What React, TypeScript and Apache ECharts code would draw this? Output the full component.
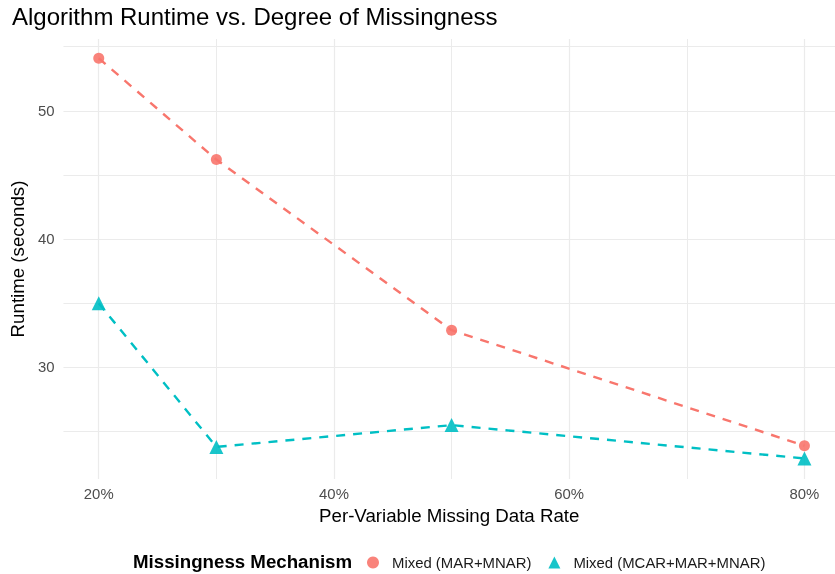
import React, { useEffect, useRef } from "react";
import * as echarts from "echarts";

const rates = [20, 30, 50, 80];
const marMnar = [54.1, 46.2, 32.9, 23.9];
const mcarMarMnar = [35.0, 23.8, 25.5, 22.9];
const seriesNames = ["Mixed (MAR+MNAR)", "Mixed (MCAR+MAR+MNAR)"];
const xMajorTicks = [20, 40, 60, 80];
const xMinorTicks = [30, 50, 70];
const yMajorTicks = [30, 40, 50];
const yMinorTicks = [25, 35, 45, 55];

const FONT = "Liberation Sans, Arial, Helvetica, sans-serif";
const GRID = "#ebebeb";

export default function App() {
  const ref = useRef<HTMLDivElement>(null);
  useEffect(() => {
    if (!ref.current) return;
    const chart = echarts.init(ref.current, null, { renderer: "svg" });
    const mk = (ys: number[]) => rates.map((r, i) => [r, ys[i]]);
    chart.setOption({
      animation: false,
      textStyle: { fontFamily: FONT },
      title: [
        {
          text: "Algorithm Runtime vs. Degree of Missingness",
          left: 12,
          top: 4,
          padding: 0,
          textStyle: { fontFamily: FONT, fontSize: 24, fontWeight: "normal", color: "#000" },
        },
        {
          text: "Missingness Mechanism",
          left: 133,
          top: 552,
          padding: 0,
          textStyle: { fontFamily: FONT, fontSize: 18.7, fontWeight: "bold", color: "#000" },
        },
      ],
      legend: {
        left: 367,
        top: 555,
        padding: 0,
        itemWidth: 12,
        itemHeight: 12,
        itemGap: 17,
        textStyle: { fontFamily: FONT, fontSize: 14.9, color: "#1a1a1a", padding: [0, 0, 0, 8] },
        data: [
          { name: seriesNames[0], icon: "circle" },
          { name: seriesNames[1], icon: "triangle" },
        ],
      },
      grid: { left: 60, right: 0, top: 39, bottom: 95, containLabel: false },
      xAxis: [
        {
          type: "value",
          min: 17,
          max: 82.6,
          axisLine: { show: false },
          axisTick: { show: false, customValues: xMajorTicks },
          axisLabel: {
            customValues: xMajorTicks,
            formatter: (v: number) => v + "%",
            color: "#4d4d4d",
            fontSize: 14.9,
            margin: 7,
            fontFamily: FONT,
          },
          splitLine: { show: true, lineStyle: { color: GRID, width: 1.2 } },
          name: "Per-Variable Missing Data Rate",
          nameLocation: "middle",
          nameGap: 26,
          nameTextStyle: { fontFamily: FONT, fontSize: 18.7, color: "#000" },
        },
        {
          type: "value",
          min: 17,
          max: 82.6,
          position: "top",
          axisLine: { show: false },
          axisTick: { show: false, customValues: xMinorTicks },
          axisLabel: { show: false, customValues: xMinorTicks },
          splitLine: { show: true, lineStyle: { color: GRID, width: 1 } },
        },
      ],
      yAxis: [
        {
          type: "value",
          min: 21.3,
          max: 55.6,
          axisLine: { show: false },
          axisTick: { show: false, customValues: yMajorTicks },
          axisLabel: {
            customValues: yMajorTicks,
            color: "#4d4d4d",
            fontSize: 14.9,
            margin: 9,
            fontFamily: FONT,
          },
          splitLine: { show: true, lineStyle: { color: GRID, width: 1.2 } },
          name: "Runtime (seconds)",
          nameLocation: "middle",
          nameGap: 26,
          nameTextStyle: { fontFamily: FONT, fontSize: 18.7, color: "#000" },
        },
        {
          type: "value",
          min: 21.3,
          max: 55.6,
          position: "right",
          axisLine: { show: false },
          axisTick: { show: false, customValues: yMinorTicks },
          axisLabel: { show: false, customValues: yMinorTicks },
          splitLine: { show: true, lineStyle: { color: GRID, width: 1 } },
        },
      ],
      series: [
        {
          name: seriesNames[0],
          type: "line",
          xAxisIndex: 0,
          yAxisIndex: 0,
          data: mk(marMnar),
          symbol: "circle",
          symbolSize: 11,
          itemStyle: { color: "#F8766D", opacity: 0.9 },
          lineStyle: { color: "#F8766D", width: 2.4, type: [9, 8] },
        },
        {
          name: seriesNames[1],
          type: "line",
          xAxisIndex: 0,
          yAxisIndex: 0,
          data: mk(mcarMarMnar),
          symbol: "triangle",
          symbolSize: 14,
          itemStyle: { color: "#00BFC4", opacity: 0.9 },
          lineStyle: { color: "#00BFC4", width: 2.4, type: [9, 8] },
        },
      ],
    });
    return () => chart.dispose();
  }, []);
  return <div ref={ref} style={{ position: "fixed", left: 0, top: 0, width: 835, height: 574 }} />;
}
